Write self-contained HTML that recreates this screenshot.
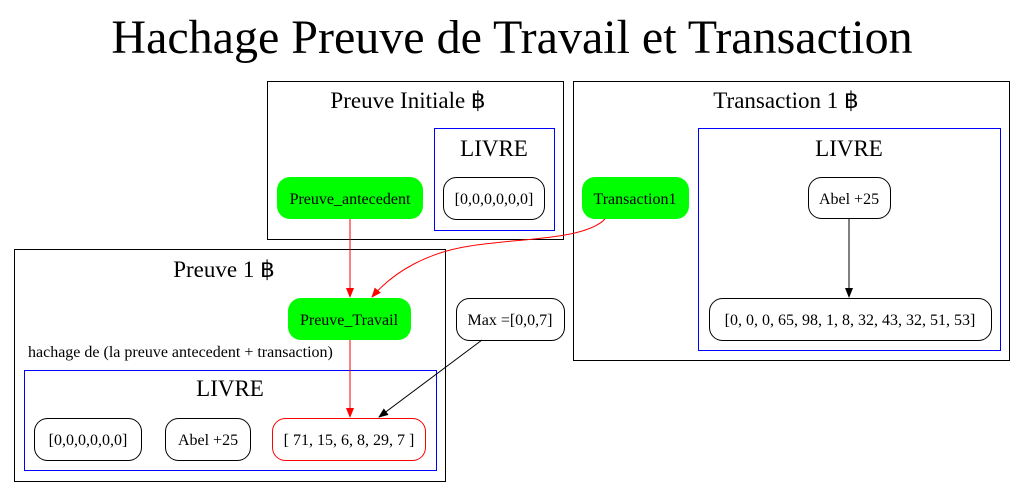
<!DOCTYPE html>
<html><head><meta charset="utf-8"><style>body{margin:0;background:#fff}svg{display:block}text{font-family:"Liberation Serif","Times New Roman",serif}</style></head><body>
<svg width="1024" height="495" viewBox="0 0 1024 495" xmlns="http://www.w3.org/2000/svg" font-family="Liberation Serif, serif">
<defs>
<marker id="r" markerWidth="10" markerHeight="10" refX="9" refY="5" orient="auto" markerUnits="userSpaceOnUse"><path d="M0,1 L10,5 L0,9 z" fill="red"/></marker>
<marker id="k" markerWidth="10" markerHeight="10" refX="9" refY="5" orient="auto" markerUnits="userSpaceOnUse"><path d="M0,1 L10,5 L0,9 z" fill="#000"/></marker>
</defs>
<text x="512" y="53" font-size="48" text-anchor="middle">Hachage Preuve de Travail et Transaction</text>
<g fill="none" stroke="#000">
<rect x="267.5" y="81.5" width="296" height="158"/>
<rect x="573.5" y="81.5" width="436" height="279"/>
<rect x="14.5" y="249.5" width="431" height="232"/>
</g>
<g fill="none" stroke="#00f">
<rect x="434.5" y="128.5" width="120" height="102"/>
<rect x="698.5" y="128.5" width="302" height="222"/>
<rect x="24.5" y="370.5" width="412" height="100"/>
</g>
<g font-size="23" text-anchor="middle">
<text x="408" y="108">Preuve Initiale ฿</text>
<text x="786" y="108">Transaction 1 ฿</text>
<text x="224" y="277">Preuve 1 ฿</text>
<text x="494" y="156">LIVRE</text>
<text x="849" y="156">LIVRE</text>
<text x="230" y="396">LIVRE</text>
</g>
<text x="28" y="357" font-size="16">hachage de (la preuve antecedent + transaction)</text>
<g stroke="#000" fill="#fff">
<rect x="443.5" y="177.5" width="101" height="42" rx="13"/>
<rect x="808.5" y="177.5" width="82" height="41" rx="13"/>
<rect x="709.5" y="298.5" width="282" height="42" rx="13"/>
<rect x="456.5" y="298.5" width="108" height="42" rx="13"/>
<rect x="34.5" y="418.5" width="107" height="42" rx="13"/>
<rect x="165.5" y="418.5" width="85" height="42" rx="13"/>
<rect x="272.5" y="418.5" width="153" height="42" rx="13" stroke="red"/>
</g>
<g fill="#0f0">
<rect x="277" y="177" width="146" height="42" rx="13"/>
<rect x="582" y="177" width="107" height="42" rx="13"/>
<rect x="288" y="298" width="123" height="42" rx="13"/>
</g>
<g font-size="16" text-anchor="middle">
<text x="494" y="204">[0,0,0,0,0,0]</text>
<text x="849" y="204">Abel +25</text>
<text x="850" y="325">[0, 0, 0, 65, 98, 1, 8, 32, 43, 32, 51, 53]</text>
<text x="510" y="325">Max =[0,0,7]</text>
<text x="88" y="445">[0,0,0,0,0,0]</text>
<text x="208" y="445">Abel +25</text>
<text x="349" y="445">[ 71, 15, 6, 8, 29, 7 ]</text>
<text x="350" y="204">Preuve_antecedent</text>
<text x="635" y="204">Transaction1</text>
<text x="349" y="325">Preuve_Travail</text>
</g>
<g fill="none">
<path d="M350,219 L350,297" stroke="red" marker-end="url(#r)"/>
<path d="M350,340 L350,417" stroke="red" marker-end="url(#r)"/>
<path d="M605,219 C585,240 520,238 470,246 C430,252 395,270 372,297" stroke="red" marker-end="url(#r)"/>
<path d="M482,340 L379,417" stroke="#000" marker-end="url(#k)"/>
<path d="M849,218 L849,297" stroke="#000" marker-end="url(#k)"/>
</g>
</svg>
</body></html>
